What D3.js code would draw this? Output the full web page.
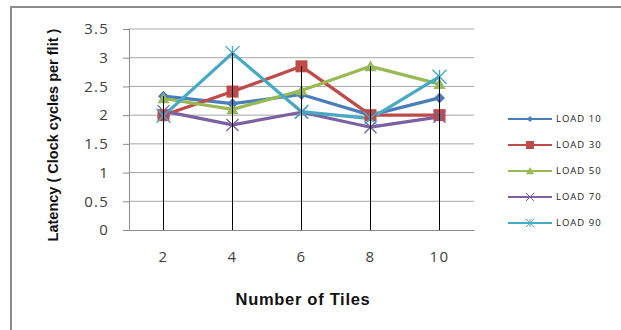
<!DOCTYPE html>
<html>
<head>
<meta charset="utf-8">
<script src="https://cdn.jsdelivr.net/npm/d3@7"></script>
<style>
  html, body { margin: 0; padding: 0; background: #fff; }
  svg { display: block; }
</style>
</head>
<body>
<svg id="chart" width="621" height="330"></svg>
<script>
// Tile counts along the x axis
const tiles = ["2", "4", "6", "8", "10"];
// Latency (clock cycles per flit) per load level
const load10 = [2.33, 2.2, 2.36, 2.0, 2.3];
const load30 = [2.0, 2.41, 2.85, 2.0, 2.0];
const load50 = [2.29, 2.1, 2.43, 2.85, 2.54];
const load70 = [2.07, 1.83, 2.05, 1.79, 1.97];
const load90 = [1.99, 3.08, 2.06, 1.94, 2.67];
const seriesNames = ["LOAD 10", "LOAD 30", "LOAD 50", "LOAD 70", "LOAD 90"];
const yTicks = [0, 0.5, 1, 1.5, 2, 2.5, 3, 3.5];

const series = [
  { name: seriesNames[0], values: load10, color: "#4A7EBB", marker: "diamond" },
  { name: seriesNames[1], values: load30, color: "#BE4B48", marker: "square" },
  { name: seriesNames[2], values: load50, color: "#98B954", marker: "triangle" },
  { name: seriesNames[3], values: load70, color: "#7D60A0", marker: "cross" },
  { name: seriesNames[4], values: load90, color: "#46AAC5", marker: "star" }
];

const svg = d3.select("#chart");
const titleFont = "'Liberation Sans', Arial, sans-serif";
const labelFont = "'Open Sans', 'Liberation Sans', sans-serif";

// outer chart frame
svg.append("rect")
  .attr("x", 11).attr("y", 7).attr("width", 640).attr("height", 360)
  .attr("fill", "#fff").attr("stroke", "#8c8c8c").attr("stroke-width", 2);

const plot = { left: 129, right: 474, top: 29, bottom: 230 };

const x = d3.scaleBand().domain(tiles).range([plot.left, plot.right]);
const y = d3.scaleLinear().domain([0, 3.5]).range([plot.bottom, plot.top]);
const cx = d => x(d) + x.bandwidth() / 2;

// horizontal gridlines
svg.append("g").selectAll("line").data(yTicks.filter(t => t > 0)).join("line")
  .attr("x1", plot.left).attr("x2", plot.right)
  .attr("y1", d => y(d)).attr("y2", d => y(d))
  .attr("stroke", "#a6a6a6").attr("stroke-width", 1);

// y axis
const yAxis = svg.append("g")
  .attr("transform", `translate(${plot.left},0)`)
  .call(d3.axisLeft(y).tickValues(yTicks).tickSize(6).tickPadding(14).tickFormat(d3.format("")));
yAxis.select(".domain").attr("stroke", "#8c8c8c");
yAxis.selectAll(".tick line").attr("stroke", "#8c8c8c");
yAxis.selectAll(".tick text")
  .attr("font-family", labelFont).attr("font-size", 15).attr("letter-spacing", 1.2)
  .attr("fill", "#404040");

// x axis
const xAxis = svg.append("g")
  .attr("transform", `translate(0,${plot.bottom})`)
  .call(d3.axisBottom(x).tickSize(0).tickPadding(21));
xAxis.select(".domain").attr("stroke", "#8c8c8c");
xAxis.selectAll(".tick text")
  .attr("font-family", labelFont).attr("font-size", 15).attr("letter-spacing", 1.5)
  .attr("fill", "#404040");

// series lines
const line = d3.line().x((d, i) => cx(tiles[i])).y(d => y(d));
svg.append("g").selectAll("path").data(series).join("path")
  .attr("d", s => line(s.values))
  .attr("fill", "none")
  .attr("stroke", s => s.color)
  .attr("stroke-width", 3.2)
  .attr("stroke-linejoin", "round");

// marker shapes
function drawMarker(g, type, color, size, sw) {
  const h = size / 2;
  if (type === "diamond") {
    g.append("path").attr("d", `M0,${-h}L${h},0L0,${h}L${-h},0Z`).attr("fill", color);
  } else if (type === "square") {
    g.append("rect").attr("x", -h).attr("y", -h).attr("width", size).attr("height", size).attr("fill", color);
  } else if (type === "triangle") {
    g.append("path").attr("d", `M0,${-h}L${h},${h * 0.8}L${-h},${h * 0.8}Z`).attr("fill", color);
  } else if (type === "cross") {
    g.append("path").attr("d", `M${-h},${-h}L${h},${h}M${-h},${h}L${h},${-h}`)
      .attr("stroke", color).attr("stroke-width", sw).attr("fill", "none");
  } else if (type === "star") {
    g.append("path").attr("d", `M${-h},${-h}L${h},${h}M${-h},${h}L${h},${-h}M0,${-h}L0,${h}`)
      .attr("stroke", color).attr("stroke-width", sw).attr("fill", "none");
  }
}

const markerSize = { diamond: 11, square: 12, triangle: 12, cross: 12, star: 14 };
series.forEach(s => {
  s.values.forEach((v, i) => {
    const g = svg.append("g").attr("transform", `translate(${cx(tiles[i])},${y(v)})`);
    drawMarker(g, s.marker, s.color, markerSize[s.marker], 1.4);
  });
});

// drop lines from every point to the category axis
svg.append("g").selectAll("line")
  .data(series.flatMap(s => s.values.map((v, i) => ({ t: tiles[i], v }))))
  .join("line")
  .attr("x1", d => cx(d.t)).attr("x2", d => cx(d.t))
  .attr("y1", d => y(d.v)).attr("y2", plot.bottom)
  .attr("stroke", "#000").attr("stroke-width", 1);

// axis titles
svg.append("text")
  .attr("transform", `translate(58,135) rotate(-90)`)
  .attr("text-anchor", "middle")
  .attr("font-family", titleFont).attr("font-size", 14.5).attr("font-weight", "bold")
  .attr("fill", "#111")
  .text("Latency ( Clock cycles per flit )");

svg.append("text")
  .attr("x", 303).attr("y", 305)
  .attr("text-anchor", "middle")
  .attr("font-family", titleFont).attr("font-size", 16.5).attr("font-weight", "bold")
  .attr("letter-spacing", 0.7)
  .attr("fill", "#111")
  .text("Number of Tiles");

// legend
const legendMarker = { diamond: 6, square: 8, triangle: 8, cross: 8, star: 8 };
const legend = svg.append("g");
series.forEach((s, i) => {
  const ly = 119 + i * 26;
  const g = legend.append("g");
  g.append("line").attr("x1", 508).attr("x2", 552).attr("y1", ly).attr("y2", ly)
    .attr("stroke", s.color).attr("stroke-width", 2);
  const m = g.append("g").attr("transform", `translate(530,${ly})`);
  drawMarker(m, s.marker, s.color, legendMarker[s.marker], 1);
  g.append("text").attr("x", 556).attr("y", ly).attr("dy", "0.36em")
    .attr("font-family", labelFont).attr("font-size", 9.5).attr("letter-spacing", 1)
    .attr("fill", "#222")
    .text(s.name);
});
</script>
</body>
</html>
